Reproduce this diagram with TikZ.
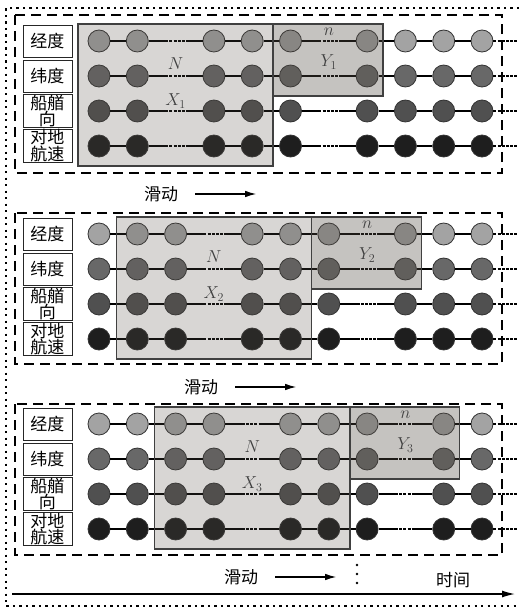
\documentclass[tikz,border=0pt]{standalone}
\usepackage{fontspec}
\newfontfamily\cjk{Noto Sans CJK SC}
\usepackage{tikz}
\usetikzlibrary{arrows.meta,positioning,calc}
\definecolor{rowa}{RGB}{163,163,163}
\definecolor{rowb}{RGB}{104,104,104}
\definecolor{rowc}{RGB}{80,80,80}
\definecolor{rowd}{RGB}{30,30,30}
\definecolor{tint}{RGB}{85,78,70}

\begin{document}
\begin{tikzpicture}[
    x=1pt, y=-1pt,
    >={Latex[length=11pt,width=6.5pt]},
    featbox/.style={draw=black!85, fill=white, line width=0.8pt, minimum width=49pt, minimum height=32pt, inner sep=0pt, align=center, font=\cjk\fontsize{17}{14}\selectfont},
    sample/.style={circle, draw=black!80, line width=0.8pt, minimum size=22pt, inner sep=0pt},
    link/.style={line width=1.2pt},
    gapline/.style={line width=2.4pt, dash pattern=on 3pt off 1.2pt},
    xwin/.style={draw=black!75, line width=1.5pt, fill=tint, fill opacity=0.23},
    ywin/.style={draw=black!75, line width=1.5pt, fill=tint, fill opacity=0.34},
    panel/.style={draw, line width=1.4pt, dash pattern=on 10pt off 6pt},
    frame/.style={line width=2.2pt, dash pattern=on 2.2pt off 4.3pt},
    slide/.style={font=\cjk\fontsize{17}{17}\selectfont, inner sep=1pt},
    winlabel/.style={font=\fontsize{18}{18}\selectfont, text=black!75, inner sep=1pt}
]
\useasboundingbox (0,0) rectangle (519,608);
% outer frame
\draw[frame] (519,8) -- (6,8) -- (6,606) -- (519,606);
% three sliding steps
\foreach \p/\firsty/\ptop/\pbot in {1/41/15/173, 2/234/213/364, 3/424/404/555} {
  \pgfmathtruncatemacro{\gone}{\p+1}
  \pgfmathtruncatemacro{\gtwo}{\p+5}
  \draw[panel] (15,\ptop) rectangle (502,\pbot);
  \foreach \row/\txt/\tone in {1/{经度}/rowa, 2/{纬度}/rowb, 3/{船艏\\向}/rowc, 4/{对地\\航速}/rowd} {
    \pgfmathsetmacro{\ry}{\firsty+35*(\row-1)}
    \node[featbox] (f\p-\row) at (47.5,\ry) {\txt};
    \foreach \col in {0,...,10} {
      \pgfmathsetmacro{\cx}{99+38.3*\col}
      \pgfmathtruncatemacro{\isgap}{(\col==\gone)||(\col==\gtwo)}
      \ifnum\isgap=1
        \coordinate (g\p-\row-\col) at (\cx,\ry);
        \coordinate (g\p-\row-\col-a) at (\cx-10.5,\ry);
        \coordinate (g\p-\row-\col-b) at (\cx+10,\ry);
      \else
        \node[sample, fill=\tone] (s\p-\row-\col) at (\cx,\ry) {};
      \fi
    }
    \foreach \col in {0,...,9} {
      \pgfmathtruncatemacro{\cn}{\col+1}
      \pgfmathtruncatemacro{\cnn}{\col+2}
      \pgfmathtruncatemacro{\isgap}{(\col==\gone)||(\col==\gtwo)}
      \pgfmathtruncatemacro{\nxgap}{(\cn==\gone)||(\cn==\gtwo)}
      \ifnum\isgap=0
        \ifnum\nxgap=1
          \draw[link] (s\p-\row-\col) -- (g\p-\row-\cn-a);
          \draw[gapline] (g\p-\row-\cn-a) -- (g\p-\row-\cn-b);
          \draw[link] (g\p-\row-\cn-b) -- (s\p-\row-\cnn);
        \else
          \draw[link] (s\p-\row-\col) -- (s\p-\row-\cn);
        \fi
      \fi
    }
    \coordinate (e\p-\row) at (518,\ry);
    \draw[gapline] (s\p-\row-10) -- (e\p-\row);
  }
  % input window X and target window Y
  \pgfmathtruncatemacro{\xa}{\p-1}
  \pgfmathtruncatemacro{\xb}{\p+3}
  \pgfmathtruncatemacro{\yb}{\p+6}
  \coordinate (xnw\p) at ($(s\p-1-\xa)+(-21,-17)$);
  \coordinate (xse\p) at ($(s\p-4-\xb)+(21,20)$);
  \coordinate (yse\p) at ($(s\p-2-\yb)+(16,20)$);
  \draw[xwin] (xnw\p) rectangle (xse\p);
  \draw[ywin] (xse\p |- xnw\p) rectangle (yse\p);
  \node[winlabel] (nbig\p) at ($(g\p-2-\gone)+(0,-12)$) {$N$};
  \node[winlabel] (xlab\p) at ($(g\p-3-\gone)+(0,-10)$) {$X_\p$};
  \node[winlabel] (nsmall\p) at ($(g\p-1-\gtwo)+(0,-9)$) {$n$};
  \node[winlabel] (ylab\p) at ($(g\p-2-\gtwo)+(0,-14)$) {$Y_\p$};
  % sliding direction
  \node[slide] (slide\p) at (161+40*\p-40,\firsty+153) {滑动};
  \coordinate (sa\p) at ($(slide\p.east)+(16,0)$);
  \coordinate (sb\p) at ($(sa\p)+(61,0)$);
  \draw[->, line width=1.2pt] (sa\p) -- (sb\p);
}
% time axis
\coordinate (t0) at (12,594);
\coordinate (t1) at (515,594);
\draw[->, line width=1.4pt, >={Latex[length=13pt,width=7pt]}] (t0) -- (t1);
\node[slide] (time) at (453,580) {时间};
\foreach \vy in {565,574,583}
  \fill (357,\vy) circle (1.3);
\end{tikzpicture}
\end{document}
